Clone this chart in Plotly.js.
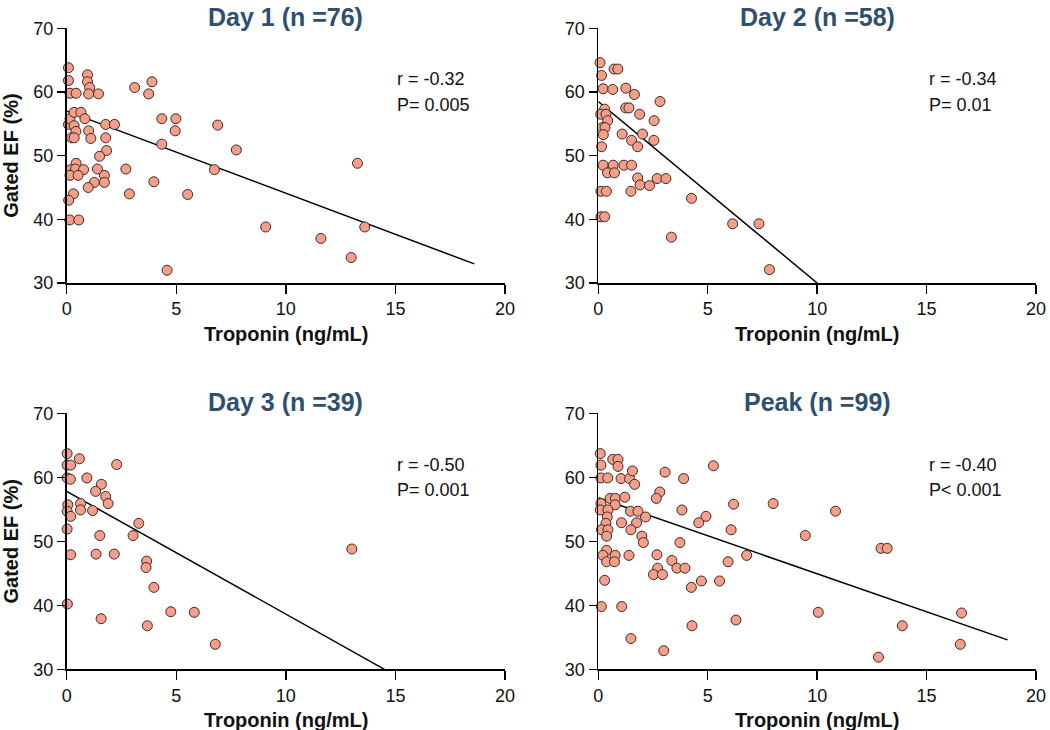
<!DOCTYPE html>
<html>
<head>
<meta charset="utf-8">
<script src="https://cdn.plot.ly/plotly-3.0.1.min.js"></script>
<style>html,body{margin:0;padding:0;background:#fff;}#chart{width:1050px;height:730px;}</style>
</head>
<body>
<div id="chart"></div>
<script>
// ---------- data ----------
var panelTitles = ["Day 1 (n =76)", "Day 2 (n =58)", "Day 3 (n =39)", "Peak (n =99)"];
var rTexts = ["r = -0.32", "r = -0.34", "r = -0.50", "r = -0.40"];
var pTexts = ["P= 0.005", "P= 0.01", "P= 0.001", "P< 0.001"];
var xTickVals = [0, 5, 10, 15, 20];
var yTickVals = [30, 40, 50, 60, 70];
var xTitle = "Troponin (ng/mL)";
var yTitle = "Gated EF (%)";

var day1X = [0.08,0.08,0.15,0.43,0.95,0.95,1.05,1.0,1.45,0.08,0.15,0.34,0.65,0.83,0.34,0.42,0.22,0.34,1.0,1.1,1.78,2.18,1.78,1.82,1.5,0.43,0.18,0.4,0.77,0.15,0.52,1.4,1.72,1.72,1.26,0.98,0.31,0.09,0.14,0.55,2.7,2.86,3.1,3.74,3.89,4.34,4.98,4.95,4.34,3.98,5.52,4.58,6.89,6.74,7.74,9.08,11.6,13.27,13.6,12.98];
var day1Y = [63.8,61.8,59.8,59.8,62.7,61.6,60.7,59.7,59.7,54.9,55.8,56.8,56.8,55.8,54.7,53.8,52.8,52.8,53.9,52.7,54.9,54.9,52.8,50.8,49.9,48.8,47.8,47.9,47.8,46.9,46.9,47.9,46.9,45.8,45.8,45.0,44.0,43.0,39.9,39.9,47.9,44.0,60.7,59.7,61.6,55.8,55.8,53.9,51.8,45.9,43.9,32.0,54.8,47.8,50.9,38.8,37.0,48.8,38.8,34.0];

var day2X = [0.08,0.15,0.22,0.66,0.72,0.89,1.26,1.65,2.82,0.29,1.25,1.4,0.11,0.35,0.43,1.89,2.55,0.18,0.31,0.23,1.09,2.02,1.52,2.54,0.15,1.8,0.22,0.68,1.17,1.52,0.42,0.74,1.8,2.69,3.09,1.91,2.34,0.12,0.37,1.49,4.26,0.12,0.29,3.34,6.14,7.34,7.82];
var day2Y = [64.6,62.6,60.5,60.4,63.6,63.6,60.6,59.6,58.5,57.3,57.5,57.5,56.5,56.5,55.5,56.5,55.5,54.4,54.4,53.3,53.4,53.4,52.4,52.4,51.4,51.4,48.5,48.5,48.5,48.5,47.3,47.3,46.5,46.4,46.4,45.4,45.3,44.4,44.4,44.4,43.3,40.4,40.4,37.2,39.3,39.3,32.1];

var day3X = [0.02,0.02,0.18,0.58,2.28,0.02,0.17,0.92,1.58,1.32,1.78,1.89,0.63,0.05,0.02,0.63,1.18,0.18,3.29,0.02,1.51,3.03,0.18,1.34,2.17,3.65,3.62,3.98,0.03,4.75,5.82,1.57,3.68,6.78,13.01];
var day3Y = [63.7,61.9,61.9,62.9,62.0,59.9,59.7,59.9,58.9,57.8,57.0,55.9,55.9,55.7,54.7,54.9,54.8,53.9,52.8,51.9,50.9,50.9,47.9,48.0,48.0,46.9,45.9,42.8,40.2,39.0,38.9,37.9,36.8,33.9,48.8];

var peakX = [0.09,0.12,0.12,0.43,0.66,0.9,0.9,1.04,1.43,1.56,1.66,3.05,3.9,5.26,2.81,2.65,0.54,0.78,1.21,0.12,0.77,0.09,0.44,1.47,1.81,3.82,2.16,4.92,0.41,0.35,1.06,1.75,4.59,0.15,0.44,1.49,6.07,0.38,1.99,2.06,3.73,0.38,0.21,0.77,1.4,2.68,6.78,0.38,0.74,3.36,5.93,2.71,3.59,3.96,2.52,2.93,0.29,4.71,5.54,4.25,0.14,1.07,6.29,4.28,1.49,2.99,6.18,7.99,10.84,9.46,12.92,13.2,10.05,13.89,16.6,16.54,12.8];
var peakY = [63.7,61.9,59.9,59.9,62.8,62.8,61.7,59.8,59.8,61.0,58.9,60.8,59.8,61.8,57.7,56.7,56.7,56.7,56.9,55.9,55.7,54.9,54.9,54.7,54.7,54.9,53.8,53.9,53.8,52.8,52.9,52.9,52.9,51.8,51.8,51.8,51.8,50.8,50.8,49.8,49.8,48.6,47.8,47.8,47.8,47.9,47.8,46.8,46.8,47.0,46.8,45.8,45.8,45.8,44.8,44.8,43.9,43.8,43.8,42.8,39.8,39.8,37.7,36.8,34.8,32.9,55.8,55.9,54.7,50.9,48.9,48.9,38.9,36.8,38.8,33.9,31.9];

// regression line end points
var fit1X = [0, 18.6], fit1Y = [57.0, 33.0];
var fit2X = [0, 10.0], fit2Y = [58.5, 30.0];
var fit3X = [0, 14.5], fit3Y = [57.8, 30.0];
var fitPX = [0, 18.7], fitPY = [56.8, 34.6];

// ---------- chart ----------
var FONT = '"Liberation Sans", Arial, Helvetica, sans-serif';
var W = 1050, H = 730;
var xDomL = [66.7 / W, 505 / W], xDomR = [598.3 / W, 1036 / W];
var yDomT = [1 - 283 / H, 1 - 28.3 / H], yDomB = [1 - 669.3 / H, 1 - 413.3 / H];

var scatX = [day1X, day2X, day3X, peakX];
var scatY = [day1Y, day2Y, day3Y, peakY];
var fitX = [fit1X, fit2X, fit3X, fitPX];
var fitY = [fit1Y, fit2Y, fit3Y, fitPY];

var traces = [];
for (var i = 0; i < 4; i++) {
  var xa = i === 0 ? 'x' : 'x' + (i + 1);
  var ya = i === 0 ? 'y' : 'y' + (i + 1);
  traces.push({
    type: 'scatter', mode: 'lines', x: fitX[i], y: fitY[i], xaxis: xa, yaxis: ya,
    line: {color: '#000', width: 1.5}, hoverinfo: 'skip', showlegend: false, cliponaxis: false
  });
  traces.push({
    type: 'scatter', mode: 'markers', x: scatX[i], y: scatY[i], xaxis: xa, yaxis: ya,
    marker: {size: 10, color: '#f59f8a', line: {color: '#3a2a28', width: 1}},
    showlegend: false, cliponaxis: false
  });
}

function xAxis(dom, anchor) {
  return {
    domain: dom, anchor: anchor, range: [0, 20], tickmode: 'array', tickvals: xTickVals,
    ticks: 'outside', ticklen: 9, tickwidth: 1.5, tickcolor: '#000',
    showline: true, linecolor: '#000', linewidth: 1.8, showgrid: false, zeroline: false,
    tickfont: {family: FONT, size: 18, color: '#111'}
  };
}
function yAxis(dom, anchor, withTitle) {
  var a = {
    domain: dom, anchor: anchor, range: [30, 70], tickmode: 'array', tickvals: yTickVals,
    ticks: 'outside', ticklen: 8, tickwidth: 1.5, tickcolor: '#000',
    showline: true, linecolor: '#000', linewidth: 1.8, showgrid: false, zeroline: false,
    tickfont: {family: FONT, size: 18, color: '#111'}
  };
  if (withTitle) a.title = {text: yTitle, font: {family: FONT, size: 20, color: '#111', weight: 'bold'}};
  return a;
}

var annotations = [];
var titleY = [1 - 17 / H, 1 - 17 / H, 1 - 402 / H, 1 - 402 / H];
var xTitleY = [1 - 334 / H, 1 - 334 / H, 1 - 720 / H, 1 - 720 / H];
for (var j = 0; j < 4; j++) {
  var xr = j === 0 ? 'x' : 'x' + (j + 1);
  var yr = j === 0 ? 'y' : 'y' + (j + 1);
  annotations.push({xref: xr + ' domain', yref: 'paper', x: 0.5, y: titleY[j], xanchor: 'center', yanchor: 'middle',
    text: panelTitles[j], showarrow: false, font: {family: FONT, size: 25, color: '#2f4f6f', weight: 'bold'}});
  annotations.push({xref: xr + ' domain', yref: 'paper', x: 0.5, y: xTitleY[j], xanchor: 'center', yanchor: 'middle',
    text: xTitle, showarrow: false, font: {family: FONT, size: 20, color: '#111', weight: 'bold'}});
  annotations.push({xref: xr, yref: yr, x: 15, y: 62, xanchor: 'left', yanchor: 'middle',
    text: rTexts[j], showarrow: false, font: {family: FONT, size: 18, color: '#111'}});
  annotations.push({xref: xr, yref: yr, x: 15, y: 58, xanchor: 'left', yanchor: 'middle',
    text: pTexts[j], showarrow: false, font: {family: FONT, size: 18, color: '#111'}});
}

var layout = {
  width: W, height: H, margin: {l: 0, r: 0, t: 0, b: 0},
  paper_bgcolor: '#fff', plot_bgcolor: '#fff', showlegend: false,
  font: {family: FONT},
  xaxis: xAxis(xDomL, 'y'), yaxis: yAxis(yDomT, 'x', true),
  xaxis2: xAxis(xDomR, 'y2'), yaxis2: yAxis(yDomT, 'x2', false),
  xaxis3: xAxis(xDomL, 'y3'), yaxis3: yAxis(yDomB, 'x3', true),
  xaxis4: xAxis(xDomR, 'y4'), yaxis4: yAxis(yDomB, 'x4', false),
  annotations: annotations
};

Plotly.newPlot('chart', traces, layout, {displayModeBar: false, staticPlot: true});
</script>
</body>
</html>
